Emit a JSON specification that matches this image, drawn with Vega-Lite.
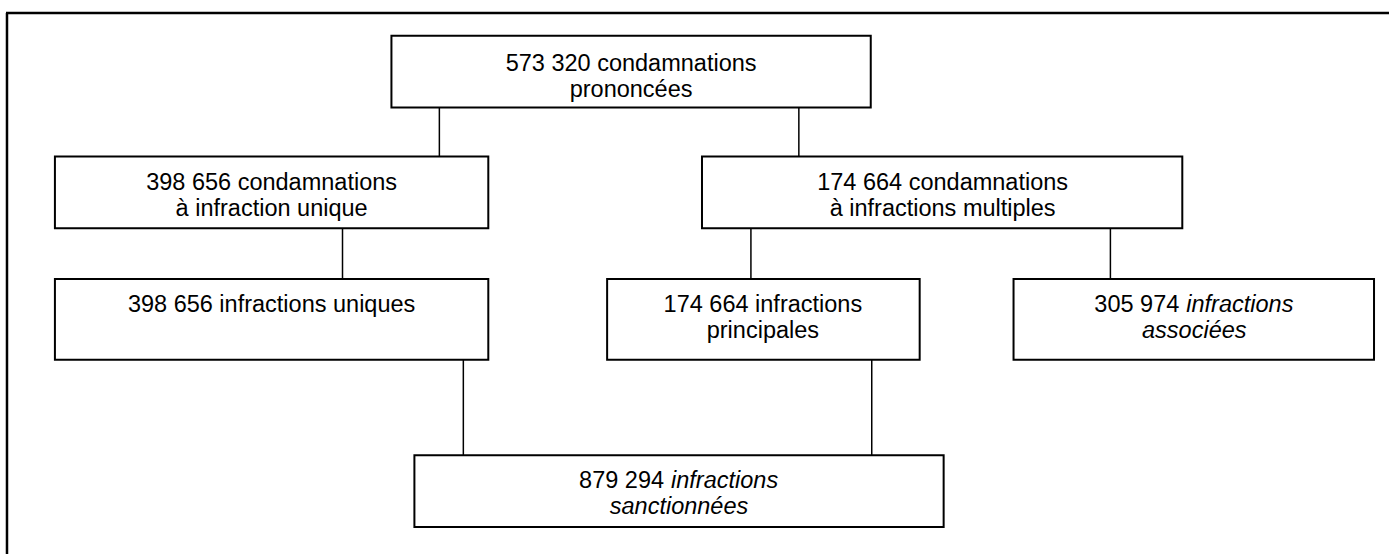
{
  "$schema": "https://vega.github.io/schema/vega-lite/v6.json",
  "width": 1391,
  "height": 556,
  "padding": 0,
  "autosize": {"type": "fit", "contains": "padding"},
  "background": "white",
  "config": {"view": {"stroke": null}},
  "datasets": {
    "frame": [
      {"x": 6, "x2": 1391, "y": 13, "y2": 13},
      {"x": 7, "x2": 7, "y": 13, "y2": 556}
    ],
    "links": [
      {"x": 440, "x2": 440, "y": 108, "y2": 157},
      {"x": 800, "x2": 800, "y": 108, "y2": 157},
      {"x": 343, "x2": 343, "y": 229, "y2": 280},
      {"x": 752, "x2": 752, "y": 229, "y2": 280},
      {"x": 1112, "x2": 1112, "y": 229, "y2": 280},
      {"x": 464, "x2": 464, "y": 361, "y2": 457},
      {"x": 873, "x2": 873, "y": 361, "y2": 457}
    ],
    "boxes": [
      {"id": "prononcees", "x": 392, "x2": 872, "y": 36, "y2": 108},
      {"id": "unique", "x": 55, "x2": 489, "y": 157, "y2": 229},
      {"id": "multiples", "x": 703, "x2": 1184, "y": 157, "y2": 229},
      {"id": "inf_uniques", "x": 55, "x2": 489, "y": 280, "y2": 361},
      {"id": "principales", "x": 608, "x2": 921, "y": 280, "y2": 361},
      {"id": "associees", "x": 1015, "x2": 1376, "y": 280, "y2": 361},
      {"id": "sanctionnees", "x": 415, "x2": 945, "y": 457, "y2": 529}
    ],
    "labels": [
      {"kind": "plain", "x": 632, "y": 71, "text": "573 320 condamnations"},
      {"kind": "plain", "x": 632, "y": 97, "text": "prononcées"},
      {"kind": "plain", "x": 272, "y": 191, "text": "398 656 condamnations"},
      {"kind": "plain", "x": 272, "y": 217, "text": "à infraction unique"},
      {"kind": "plain", "x": 944, "y": 191, "text": "174 664 condamnations"},
      {"kind": "plain", "x": 944, "y": 217, "text": "à infractions multiples"},
      {"kind": "plain", "x": 272, "y": 313, "text": "398 656 infractions uniques"},
      {"kind": "plain", "x": 764, "y": 313, "text": "174 664 infractions"},
      {"kind": "plain", "x": 764, "y": 339, "text": "principales"},
      {"kind": "num", "x": 1181, "y": 313, "text": "305 974"},
      {"kind": "it", "x": 1188, "y": 313, "text": "infractions"},
      {"kind": "itc", "x": 1196, "y": 339, "text": "associées"},
      {"kind": "num", "x": 665, "y": 490, "text": "879 294"},
      {"kind": "it", "x": 672, "y": 490, "text": "infractions"},
      {"kind": "itc", "x": 680, "y": 516, "text": "sanctionnées"}
    ]
  },
  "encoding": {
    "x": {"field": "x", "type": "quantitative", "scale": {"domain": [0, 1391], "nice": false, "zero": false}, "axis": null},
    "y": {"field": "y", "type": "quantitative", "scale": {"domain": [0, 556], "nice": false, "zero": false, "reverse": true}, "axis": null}
  },
  "layer": [
    {
      "data": {"name": "frame"},
      "mark": {"type": "rule", "color": "black", "strokeWidth": 2.5},
      "encoding": {"x2": {"field": "x2"}, "y2": {"field": "y2"}}
    },
    {
      "data": {"name": "links"},
      "mark": {"type": "rule", "color": "black", "strokeWidth": 1.5},
      "encoding": {"x2": {"field": "x2"}, "y2": {"field": "y2"}}
    },
    {
      "data": {"name": "boxes"},
      "mark": {"type": "rect", "fill": "white", "stroke": "black", "strokeWidth": 2},
      "encoding": {"x2": {"field": "x2"}, "y2": {"field": "y2"}}
    },
    {
      "data": {"name": "labels"},
      "transform": [{"filter": "datum.kind === 'plain'"}],
      "mark": {"type": "text", "font": "Liberation Sans", "fontSize": 23.5, "align": "center", "baseline": "alphabetic", "color": "black"},
      "encoding": {"text": {"field": "text"}}
    },
    {
      "data": {"name": "labels"},
      "transform": [{"filter": "datum.kind === 'num'"}],
      "mark": {"type": "text", "font": "Liberation Sans", "fontSize": 23.5, "align": "right", "baseline": "alphabetic", "color": "black"},
      "encoding": {"text": {"field": "text"}}
    },
    {
      "data": {"name": "labels"},
      "transform": [{"filter": "datum.kind === 'it'"}],
      "mark": {"type": "text", "font": "Liberation Sans", "fontSize": 23.5, "fontStyle": "italic", "align": "left", "baseline": "alphabetic", "color": "black"},
      "encoding": {"text": {"field": "text"}}
    },
    {
      "data": {"name": "labels"},
      "transform": [{"filter": "datum.kind === 'itc'"}],
      "mark": {"type": "text", "font": "Liberation Sans", "fontSize": 23.5, "fontStyle": "italic", "align": "center", "baseline": "alphabetic", "color": "black"},
      "encoding": {"text": {"field": "text"}}
    }
  ]
}
